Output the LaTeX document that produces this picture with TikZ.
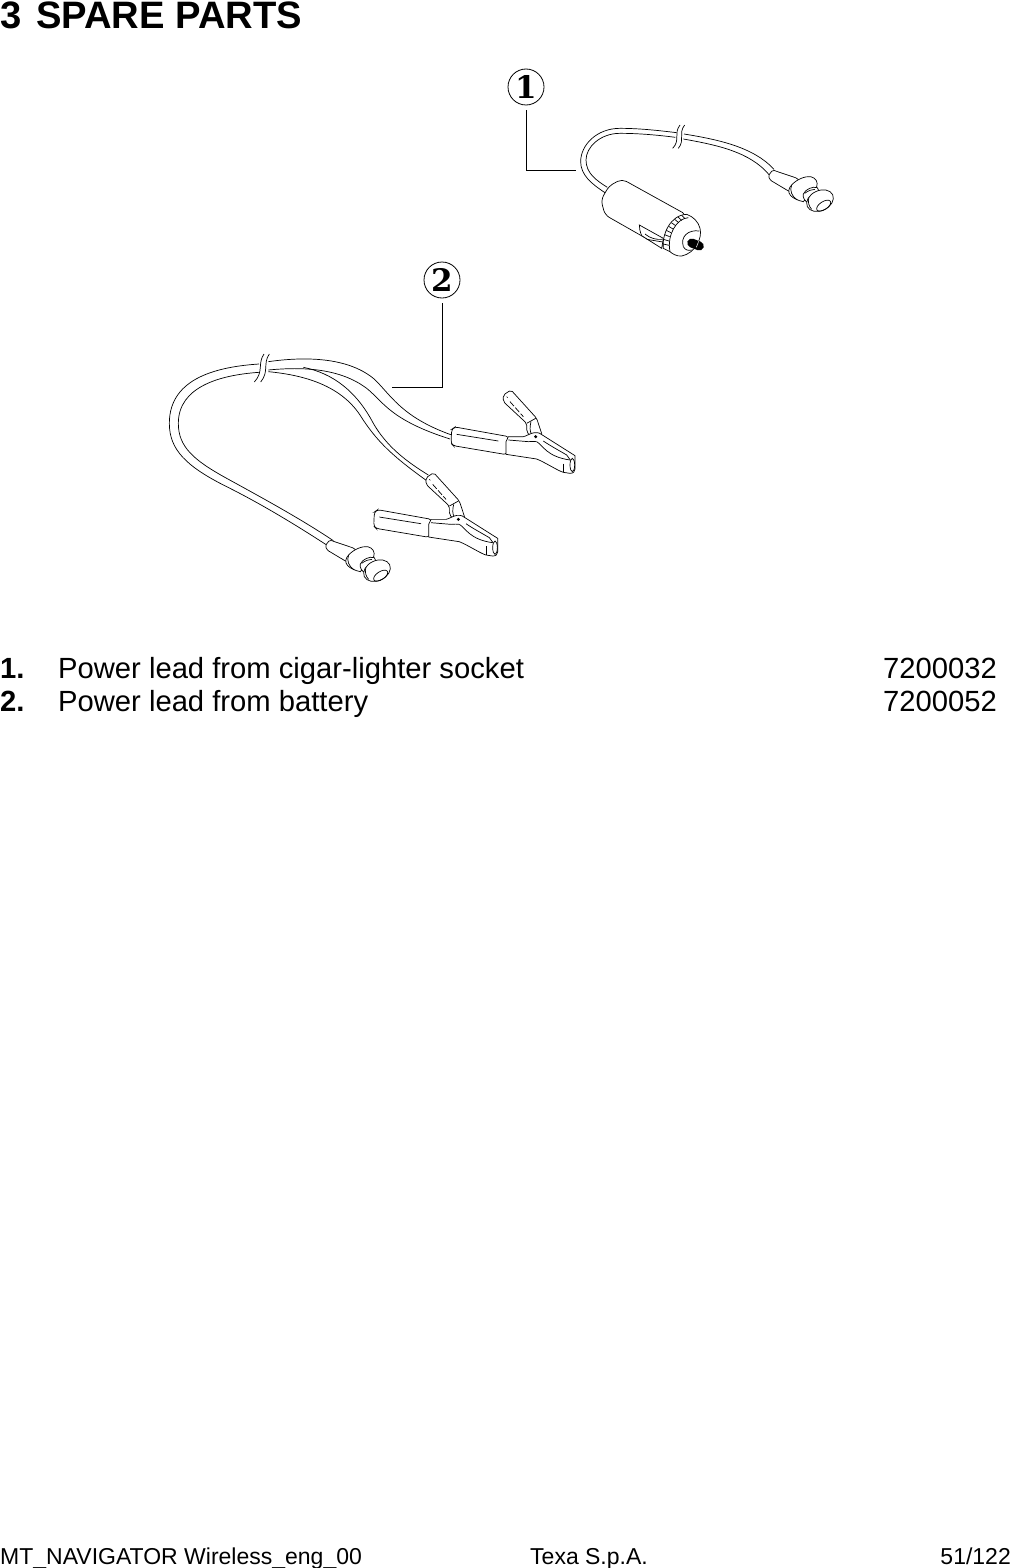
\documentclass[tikz,border=0pt]{standalone}
\usepackage{fontspec}
\setmainfont{Liberation Sans}
\newfontfamily\calloutfont{DejaVu Serif}
\newcommand{\plugshape}{%
  % sleeve
  \draw[fill=white,rounded corners=1.5pt] (25,47) -- (38,30) -- (112,55) -- (125,72) -- (92,97) -- (30,60) -- cycle;
  % flange
  \draw[fill=white] (95,75) .. controls (110,58) and (135,48) .. (152,50) .. controls (168,53) and (175,68) .. (170,80)
     -- (130,125) .. controls (115,122) and (100,115) .. (92,107) .. controls (83,97) and (85,85) .. (95,75) -- cycle;
  \draw (95,75) .. controls (88,90) and (95,110) .. (112,120);
  % neck
  \draw[fill=white] (130,102) .. controls (136,88) and (158,78) .. (172,83) -- (180,100) -- (145,128) .. controls (135,125) and (127,112) .. (130,102) -- cycle;
  \draw (134,100) .. controls (145,92) and (155,88) .. (165,88);
  % cap
  \draw[fill=white,rotate around={25:(180,122)}] (180,122) ellipse [x radius=42,y radius=30];
  \draw[rotate around={33:(191,137)}] (191,137) ellipse [x radius=24,y radius=12];
  \draw (147,112) .. controls (142,125) and (147,140) .. (155,148);
}
\newcommand{\clipshape}{%
  % sleeve
  \draw[fill=white,rounded corners=3pt] (-130,133) -- (-120,126) -- (42,155) -- (35,209) -- (-125,182) -- (-132,175) -- cycle;
  \draw (-115,148) -- (10,168);
  % upper arm
  \draw[fill=white,rounded corners=2pt] (25,30) -- (48,15) -- (125,100) -- (142,152) -- (105,152) -- (95,140) -- (95,115) -- (25,50) -- cycle;
  \draw (95,115) -- (122,100);
  \draw (108,110) .. controls (104,125) and (104,140) .. (110,148);
  \draw[dash pattern=on 6pt off 2pt] (45,50) -- (85,95);
  \draw (35,35) -- (38,38);
  % handle
  \draw[fill=white] (40,155) -- (85,155) .. controls (95,153) and (105,145) .. (118,143) .. controls (130,142) and (137,145) .. (142,150)
    -- (240,212) -- (240,252) .. controls (240,260) and (235,265) .. (225,265) -- (205,262)
    .. controls (190,258) and (150,232) .. (125,222) -- (33,208) -- (33,170) -- cycle;
  \draw (145,168) .. controls (165,182) and (195,198) .. (215,210) -- (226,225);
  \draw (125,170) .. controls (145,182) and (155,215) .. (225,225);
  \draw (40,165) -- (100,170) .. controls (110,170) and (118,168) .. (125,170);
  % tip
  \draw (205,236) -- (205,262);
  \draw (232,240) ellipse [x radius=7,y radius=20];
  \fill (122,155) circle [radius=5];
}
\begin{document}
\begin{tikzpicture}[x=1pt,y=-1pt,
  part/.style={line width=0.7pt,black},
  leader/.style={line width=0.8pt,black,shorten <=5pt},
  callout/.style={circle,draw,line width=0.8pt,inner sep=0pt,minimum size=36pt,font=\calloutfont\bfseries\fontsize{31}{31}\selectfont},
  title/.style={anchor=base west,inner sep=0pt,font=\bfseries\fontsize{38.2}{38}\selectfont},
  item/.style={anchor=base west,inner sep=0pt,font=\fontsize{29.2}{33}\selectfont},
  itemno/.style={anchor=base west,inner sep=0pt,font=\bfseries\fontsize{29.2}{33}\selectfont},
  itemcode/.style={anchor=base east,inner sep=0pt,font=\fontsize{29.2}{33}\selectfont},
  foot/.style={inner sep=0pt,font=\fontsize{23}{24}\selectfont}]
\useasboundingbox (0,0) rectangle (1011,1568);
\fill[white] (0,0) rectangle (1011,1568);

% Texts
\node[title] (t1) at (0,28.5) {3};
\node[title] (t2) at (36,28.5) {SPARE PARTS};
\node[itemno] (n1) at (0,678) {1.};
\node[item] (d1) at (58,678) {Power lead from cigar-lighter socket};
\node[itemcode] (c1) at (997,678) {7200032};
\node[itemno] (n2) at (0,711) {2.};
\node[item] (d2) at (58,711) {Power lead from battery};
\node[itemcode] (c2) at (997,711) {7200052};
\node[foot,anchor=base west] (f1) at (0,1564) {MT\_NAVIGATOR Wireless\_eng\_00};
\node[foot,anchor=base west] (f2) at (530,1564) {Texa S.p.A.};
\node[foot,anchor=base east] (f3) at (1011,1564) {51/122};

% Callouts
\node[callout] (k1) at (526,87) {1};
\node[callout] (k2) at (442,280) {2};
\coordinate (e1) at (576,170);
\coordinate (e2) at (392,387);
\draw[leader] (k1.south) |- (e1);
\draw[leader] (k2.south) |- (e2);

% Part 1 lead
\begin{scope}[shift={(490,60)},scale=1/3,part]
  \draw (345,398) .. controls (305,372) and (272,345) .. (272,305) .. controls (272,255) and (320,205) .. (390,205) .. controls (450,205) and (510,212) .. (560,218);
  \draw (352,382) .. controls (320,362) and (288,340) .. (288,300) .. controls (288,262) and (330,220) .. (390,220) .. controls (450,220) and (510,226) .. (556,232);
  \draw (582,222) .. controls (680,238) and (790,260) .. (852,328);
  \draw (580,237) .. controls (680,255) and (780,275) .. (838,345);
  \draw (570,195) .. controls (550,220) and (572,240) .. (548,265);
  \draw (584,195) .. controls (564,220) and (586,240) .. (565,265);
\end{scope}
\begin{scope}[shift={(760,160)},scale=1/3,part]
  \plugshape
\end{scope}

% Cigar-lighter plug
\begin{scope}[part]
  \draw[fill=white,rounded corners=5pt] (605,215) -- (601,200) -- (609,186) -- (622,179) -- (687,215) -- (663,248) -- cycle;
\end{scope}
\begin{scope}[shift={(620,170)},scale=1/3,part]
  % clip on body
  \draw[fill=white] (58,165) -- (130,205) -- (125,235) -- (65,197) .. controls (60,185) and (58,175) .. (58,165) -- cycle;
  \draw (75,192) .. controls (90,205) and (110,210) .. (128,208);
  \draw (80,208) -- (128,216);
  % face
  \draw[fill=white] (200,133) .. controls (220,140) and (235,155) .. (240,175) .. controls (248,205) and (225,250) .. (185,258)
    .. controls (170,260) and (155,250) .. (150,245) -- (130,235) .. controls (125,195) and (150,135) .. (200,133) -- cycle;
  % band inner edge
  \draw (205,143) .. controls (170,145) and (140,195) .. (150,245);
  \foreach \xa/\ya/\xb/\yb in {129/222/148/226,130/208/147/213,134/194/149/200,139/181/153/188,146/169/159/177,154/158/167/167,164/148/176/158,174/141/185/151,185/136/195/146}
    \draw (\xa,\ya) -- (\xb,\yb);
  % recess round tip
  \draw (190,230) .. controls (180,200) and (205,178) .. (238,183);
  \draw (190,230) .. controls (195,240) and (205,243) .. (215,240);
  % tip
  \draw[line width=9pt,line cap=round] (215,219) -- (238,228);
  \draw[white,line width=0.5pt] (236,214) -- (229,232);
\end{scope}

% Part 2 cables
\begin{scope}[shift={(160,260)},scale=1/3,part]
  \draw (297,312) .. controls (180,320) and (28,350) .. (28,490) .. controls (28,570) and (80,620) .. (200,680) .. controls (300,730) and (400,790) .. (500,855);
  \draw (297,337) .. controls (180,345) and (55,380) .. (55,490) .. controls (55,560) and (100,600) .. (200,655) .. controls (300,710) and (420,775) .. (520,842);
  \draw (325,305) .. controls (430,290) and (560,290) .. (640,355) .. controls (690,400) and (720,470) .. (875,525);
  \draw (325,330) .. controls (430,320) and (540,325) .. (620,385) .. controls (670,425) and (690,480) .. (870,537);
  \draw (430,322) .. controls (520,340) and (590,395) .. (640,490) .. controls (680,560) and (740,605) .. (805,645);
  \draw (325,335) .. controls (430,345) and (540,375) .. (600,465) .. controls (650,545) and (700,590) .. (800,662);
  \draw (312,282) .. controls (292,310) and (312,335) .. (283,366);
  \draw (328,282) .. controls (308,310) and (328,335) .. (302,366);
\end{scope}

% Part 2 plug
\begin{scope}[shift={(317,530)},scale=1/3,part]
  \plugshape
\end{scope}

% Part 2 clips
\begin{scope}[shift={(495,385)},scale=1/3,part]
  \clipshape
\end{scope}
\begin{scope}[shift={(417.7,467.7)},scale=1/3,part]
  \clipshape
\end{scope}
\end{tikzpicture}
\end{document}
